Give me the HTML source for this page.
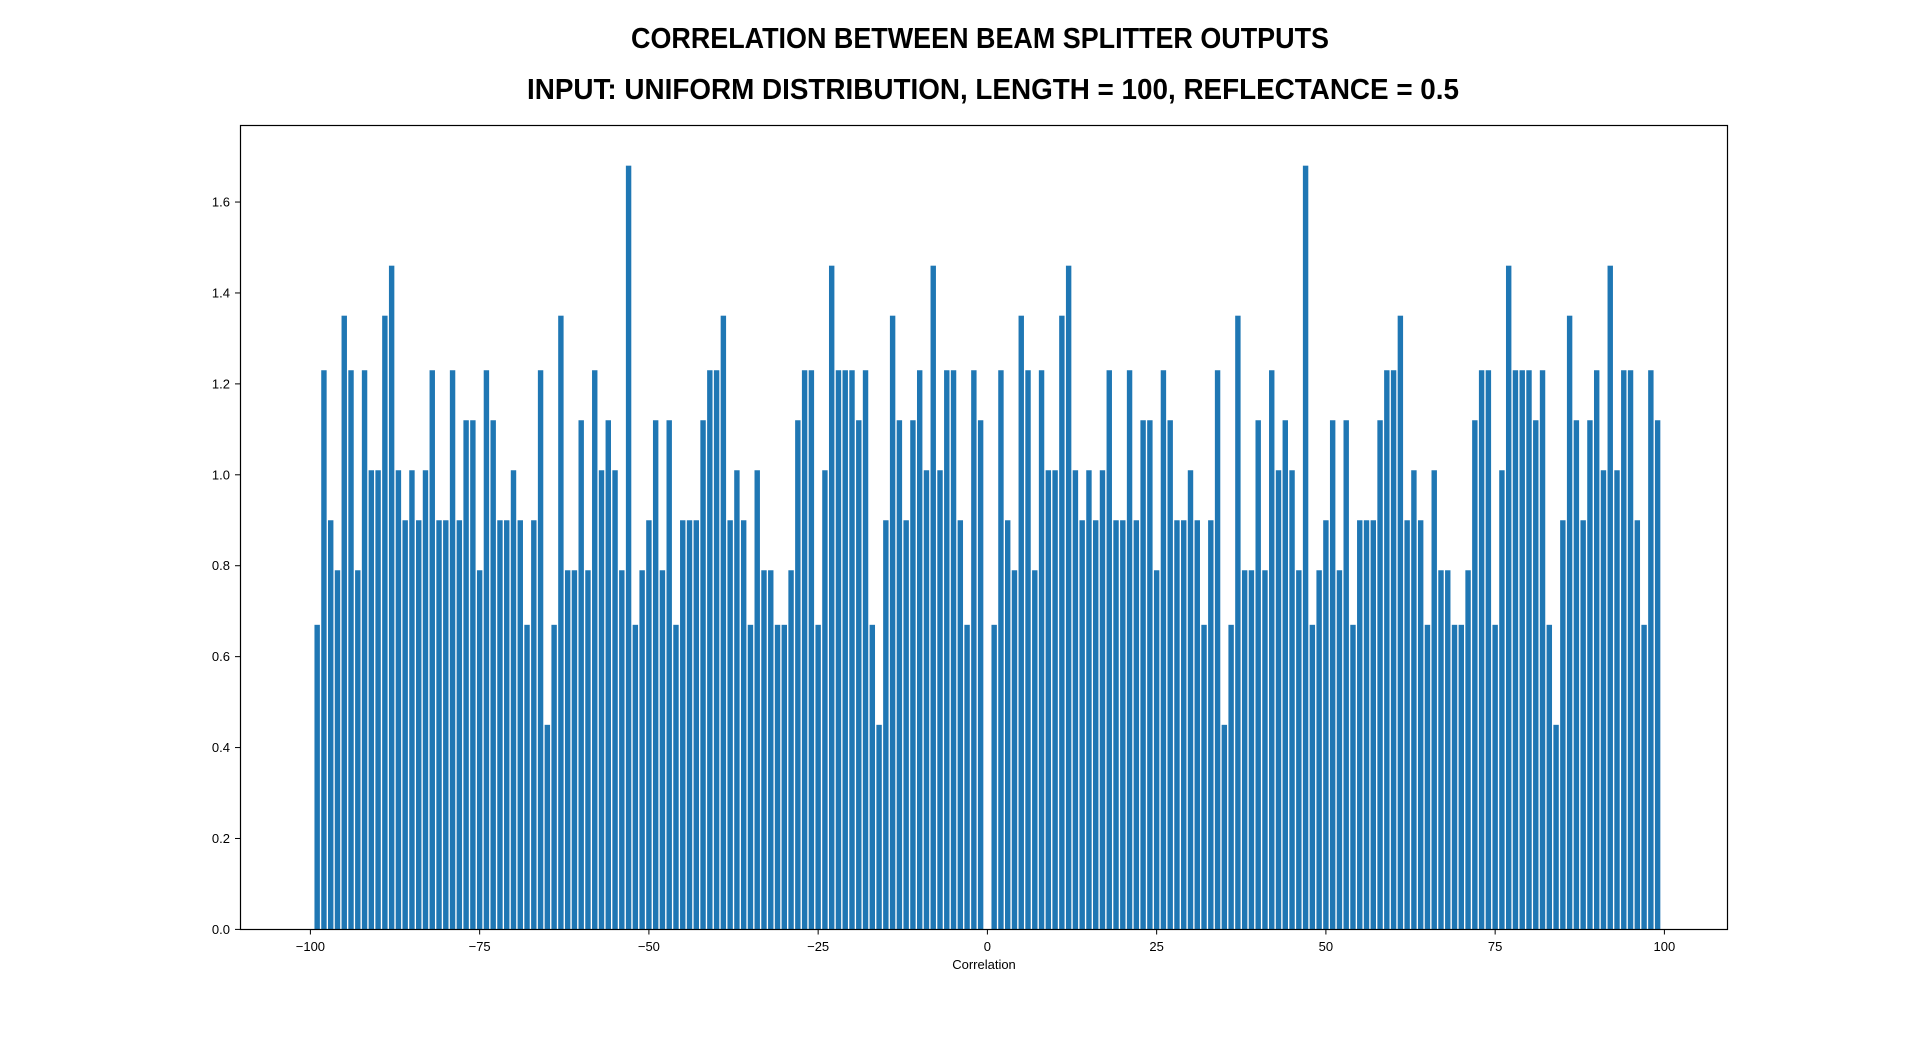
<!DOCTYPE html>
<html><head><meta charset="utf-8"><style>
html,body{margin:0;padding:0;background:#fff;}
svg{display:block;font-family:"Liberation Sans","DejaVu Sans",sans-serif;}
</style></head><body>
<svg id="chart" width="1920" height="1044" viewBox="0 0 1920 1044" xmlns="http://www.w3.org/2000/svg">
<rect width="1920" height="1044" fill="#fff"/>
<text x="980" y="48" text-anchor="middle" font-size="29" font-weight="bold" textLength="698" lengthAdjust="spacingAndGlyphs">CORRELATION BETWEEN BEAM SPLITTER OUTPUTS</text>
<text x="993" y="99" text-anchor="middle" font-size="29" font-weight="bold" textLength="932" lengthAdjust="spacingAndGlyphs">INPUT: UNIFORM DISTRIBUTION, LENGTH = 100, REFLECTANCE = 0.5</text>
<g id="bars"></g>
<g id="axes"></g>
<rect x="240.5" y="125.5" width="1487" height="804" fill="none" stroke="#000" stroke-width="1.2"/>
<text x="984" y="969" text-anchor="middle" font-size="13">Correlation</text>
</svg>
<script>
const lagStart = -99;
const values = [
0.67,1.23,0.90,0.79,1.35,1.23,0.79,1.23,1.01,1.01,
1.35,1.46,1.01,0.90,1.01,0.90,1.01,1.23,0.90,0.90,
1.23,0.90,1.12,1.12,0.79,1.23,1.12,0.90,0.90,1.01,
0.90,0.67,0.90,1.23,0.45,0.67,1.35,0.79,0.79,1.12,
0.79,1.23,1.01,1.12,1.01,0.79,1.68,0.67,0.79,0.90,
1.12,0.79,1.12,0.67,0.90,0.90,0.90,1.12,1.23,1.23,
1.35,0.90,1.01,0.90,0.67,1.01,0.79,0.79,0.67,0.67,
0.79,1.12,1.23,1.23,0.67,1.01,1.46,1.23,1.23,1.23,
1.12,1.23,0.67,0.45,0.90,1.35,1.12,0.90,1.12,1.23,
1.01,1.46,1.01,1.23,1.23,0.90,0.67,1.23,1.12,
0,
0.67,1.23,0.90,0.79,1.35,1.23,0.79,1.23,1.01,1.01,
1.35,1.46,1.01,0.90,1.01,0.90,1.01,1.23,0.90,0.90,
1.23,0.90,1.12,1.12,0.79,1.23,1.12,0.90,0.90,1.01,
0.90,0.67,0.90,1.23,0.45,0.67,1.35,0.79,0.79,1.12,
0.79,1.23,1.01,1.12,1.01,0.79,1.68,0.67,0.79,0.90,
1.12,0.79,1.12,0.67,0.90,0.90,0.90,1.12,1.23,1.23,
1.35,0.90,1.01,0.90,0.67,1.01,0.79,0.79,0.67,0.67,
0.79,1.12,1.23,1.23,0.67,1.01,1.46,1.23,1.23,1.23,
1.12,1.23,0.67,0.45,0.90,1.35,1.12,0.90,1.12,1.23,
1.01,1.46,1.01,1.23,1.23,0.90,0.67,1.23,1.12
];
const xTicks = [-100, -75, -50, -25, 0, 25, 50, 75, 100];
const xTickLabels = ["\u2212100", "\u221275", "\u221250", "\u221225", "0", "25", "50", "75", "100"];
const yTicks = [0, 0.2, 0.4, 0.6, 0.8, 1.0, 1.2, 1.4, 1.6];
const yTickLabels = ["0.0", "0.2", "0.4", "0.6", "0.8", "1.0", "1.2", "1.4", "1.6"];

const NS = "http://www.w3.org/2000/svg";
const xScale = v => 987.4 + v * 6.77;
const yScale = v => 929.4 - v * 454.6;
const barW = 0.8 * 6.77;

const bars = document.getElementById('bars');
values.forEach((v, i) => {
  const lag = lagStart + i;
  if (v <= 0) return;
  const r = document.createElementNS(NS, 'rect');
  
  
  r.setAttribute('x', xScale(lag) - barW / 2);
  r.setAttribute('y', yScale(v));
  r.setAttribute('width', barW);
  r.setAttribute('height', yScale(0) - yScale(v));
  r.setAttribute('fill', '#1f77b4');
  bars.appendChild(r);
});

const axes = document.getElementById('axes');
xTicks.forEach((t, i) => {
  const x = xScale(t);
  const l = document.createElementNS(NS, 'line');
  
  
  l.setAttribute('x1', x); l.setAttribute('x2', x);
  l.setAttribute('y1', 929.4); l.setAttribute('y2', 934.5);
  l.setAttribute('stroke', '#000');
  axes.appendChild(l);
  const tx = document.createElementNS(NS, 'text');
  
  
  tx.setAttribute('x', x); tx.setAttribute('y', 951);
  tx.setAttribute('text-anchor', 'middle');
  tx.setAttribute('font-size', '13');
  tx.textContent = xTickLabels[i];
  axes.appendChild(tx);
});
yTicks.forEach((t, i) => {
  const y = yScale(t);
  const l = document.createElementNS(NS, 'line');
  
  
  l.setAttribute('x1', 235); l.setAttribute('x2', 240.5);
  l.setAttribute('y1', y); l.setAttribute('y2', y);
  l.setAttribute('stroke', '#000');
  axes.appendChild(l);
  const tx = document.createElementNS(NS, 'text');
  
  
  tx.setAttribute('x', 230); tx.setAttribute('y', y + 4.5);
  tx.setAttribute('text-anchor', 'end');
  tx.setAttribute('font-size', '13');
  tx.textContent = yTickLabels[i];
  axes.appendChild(tx);
});
</script>
</body></html>
